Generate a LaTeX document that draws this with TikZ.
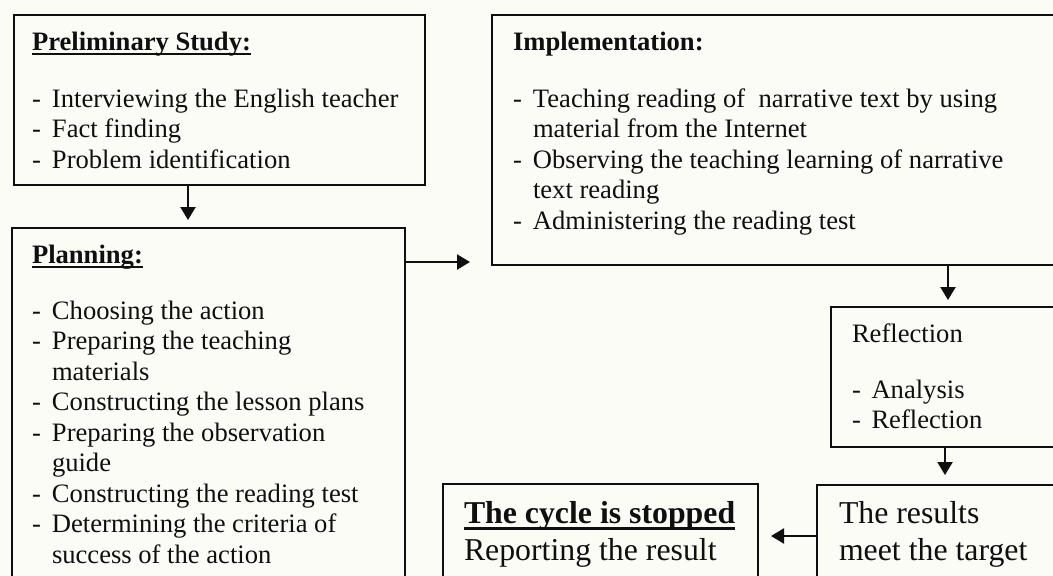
\documentclass[tikz,border=0pt]{standalone}
\usepackage{fontspec}
\setmainfont{Liberation Serif}
\usetikzlibrary{arrows.meta}
\definecolor{bgcol}{RGB}{252,252,247}
\definecolor{ink}{RGB}{15,15,15}
\newcommand\ulbox[3]{\setbox0=\hbox{#3}\rlap{\rule[-#1]{\wd0}{#2}}\box0}
\newcommand\itm[2][20pt]{\hbox{\hbox to #1{-\hfil}#2}}
\newcommand\cnt[2][20pt]{\hbox{\kern#1 #2}}
\tikzset{
  box/.style={draw=ink, line width=1.8pt, rectangle, inner sep=0pt, outer sep=0pt, anchor=north west},
  txt/.style={anchor=base west, inner sep=0pt, outer sep=0pt, text=ink, font=\fontsize{26.6pt}{30.5pt}\selectfont},
  bigtxt/.style={txt, font=\fontsize{31.8pt}{37pt}\selectfont},
  arr/.style={draw=ink, line width=2.2pt, -{Triangle[length=13pt,width=15pt]}},
}
\begin{document}
\begin{tikzpicture}[x=1pt,y=-1pt]
\fill[bgcol] (0,0) rectangle (1053,576);
\clip (0,0) rectangle (1053,576);
% boxes
\node[box, minimum width=411pt, minimum height=170pt] (prelim) at (14,15) {};
\node[box, minimum width=393pt, minimum height=400pt] (planning) at (12,228) {};
\node[box, minimum width=600pt, minimum height=250pt] (impl) at (492,15) {};
\node[box, minimum width=300pt, minimum height=140pt] (refl) at (831,307) {};
\node[box, minimum width=300pt, minimum height=150pt] (results) at (817,485) {};
\node[box, minimum width=315pt, minimum height=150pt] (cycle) at (443,484) {};
% texts
\node[txt] (prelimtxt) at (32,50) {\vtop{%
  \hbox{\bfseries\ulbox{5pt}{1.8pt}{Preliminary Study:}}%
  \vskip26.5pt
  \itm{Interviewing the English teacher}%
  \itm{Fact finding}%
  \itm{Problem identification}}};
\node[txt] (plantxt) at (32,263) {\vtop{%
  \hbox{\bfseries\ulbox{5pt}{1.8pt}{Planning:}}%
  \vskip25.5pt
  \itm{Choosing the action}%
  \itm{Preparing the teaching}%
  \cnt{materials}%
  \itm{Constructing the lesson plans}%
  \itm{Preparing the observation}%
  \cnt{guide}%
  \itm{Constructing the reading test}%
  \itm{Determining the criteria of}%
  \cnt{success of the action}}};
\node[txt] (impltxt) at (513,50) {\vtop{%
  \hbox{\bfseries Implementation:}%
  \vskip26.5pt
  \itm{Teaching reading of~ narrative text by using}%
  \cnt{material from the Internet}%
  \itm{Observing the teaching learning of narrative}%
  \cnt{text reading}%
  \itm{Administering the reading test}}};
\node[txt] (refltxt) at (852,342) {\vtop{%
  \hbox{Reflection}%
  \vskip25.5pt
  \itm[19.5pt]{Analysis}%
  \itm[19.5pt]{Reflection}}};
\node[bigtxt] (resultstxt) at (839,523) {\vtop{%
  \hbox{The results}%
  \hbox{meet the target}}};
\node[bigtxt] (cycletxt) at (464,523) {\vtop{%
  \hbox{\bfseries\ulbox{7pt}{3pt}{The cycle is stopped}}%
  \hbox{Reporting the result}}};
% connectors
\coordinate (c1) at (188,0);
\draw[arr, shorten >=8pt] (prelim.south -| c1) -- (planning.north -| c1);
\coordinate (c2) at (0,262);
\draw[arr, shorten >=22pt] (planning.east |- c2) -- (impl.west |- c2);
\coordinate (c3) at (948,0);
\draw[arr, shorten >=7pt] (impl.south -| c3) -- (refl.north -| c3);
\coordinate (c4) at (945,0);
\draw[arr, shorten >=10pt] (refl.south -| c4) -- (results.north -| c4);
\coordinate (c5) at (0,536);
\draw[arr, shorten >=13pt] (results.west |- c5) -- (cycle.east |- c5);
\end{tikzpicture}
\end{document}
